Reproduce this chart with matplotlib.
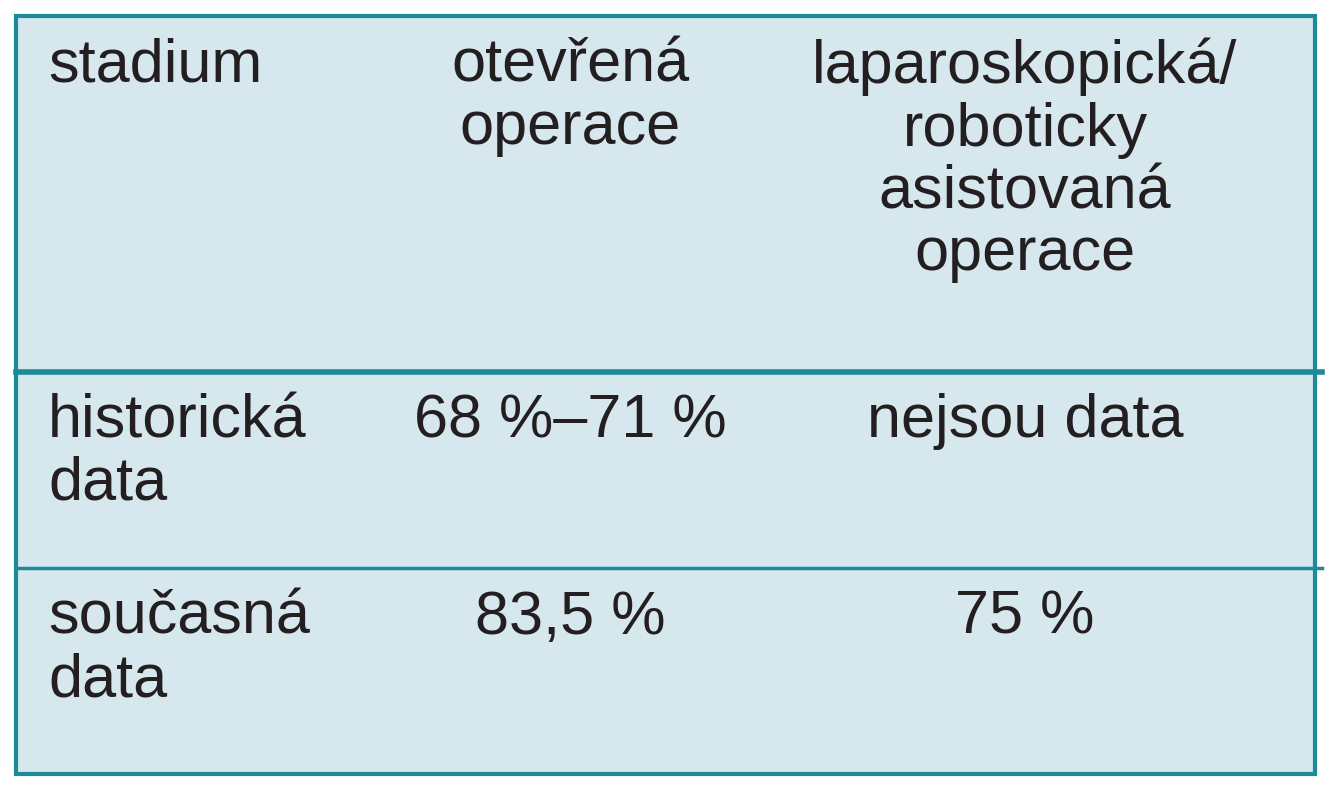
import matplotlib
matplotlib.use("Agg")
import matplotlib.pyplot as plt
from matplotlib.patches import Rectangle

headers = ["stadium", "otevřená\noperace", "laparoskopická/\nroboticky\nasistovaná\noperace"]
rows = [["historická\ndata", "68 %–71 %", "nejsou data"],
        ["současná\ndata", "83,5 %", "75 %"]]

fig = plt.figure(figsize=(13.36, 8), dpi=100)
ax = fig.add_axes([0, 0, 1, 1])
ax.set_xlim(0, 1336); ax.set_ylim(800, 0); ax.axis("off")
teal = "#1d8a99"
ax.add_patch(Rectangle((16, 16), 1299, 758, facecolor="#d6e7ed", edgecolor=teal, lw=3))
ax.plot([16, 1322], [372, 372], color=teal, lw=4)
ax.plot([16, 1322], [568, 568], color=teal, lw=2.5)

fam = ["Liberation Sans", "DejaVu Sans"]
fs = 44
ls = 1.12
col_x = [48, 570, 1025]
aligns = ["left", "center", "center"]
for x, a, t in zip(col_x, aligns, headers):
    ax.text(x, 38, t, ha=a, va="top", fontsize=fs, family=fam, color="#231f20",
            linespacing=ls)
for ry, row in zip([393, 590], rows):
    for x, a, t in zip(col_x, aligns, row):
        ax.text(x, ry, t, ha=a, va="top", fontsize=fs, family=fam, color="#231f20", linespacing=ls)
fig.savefig("out.png", dpi=100)
